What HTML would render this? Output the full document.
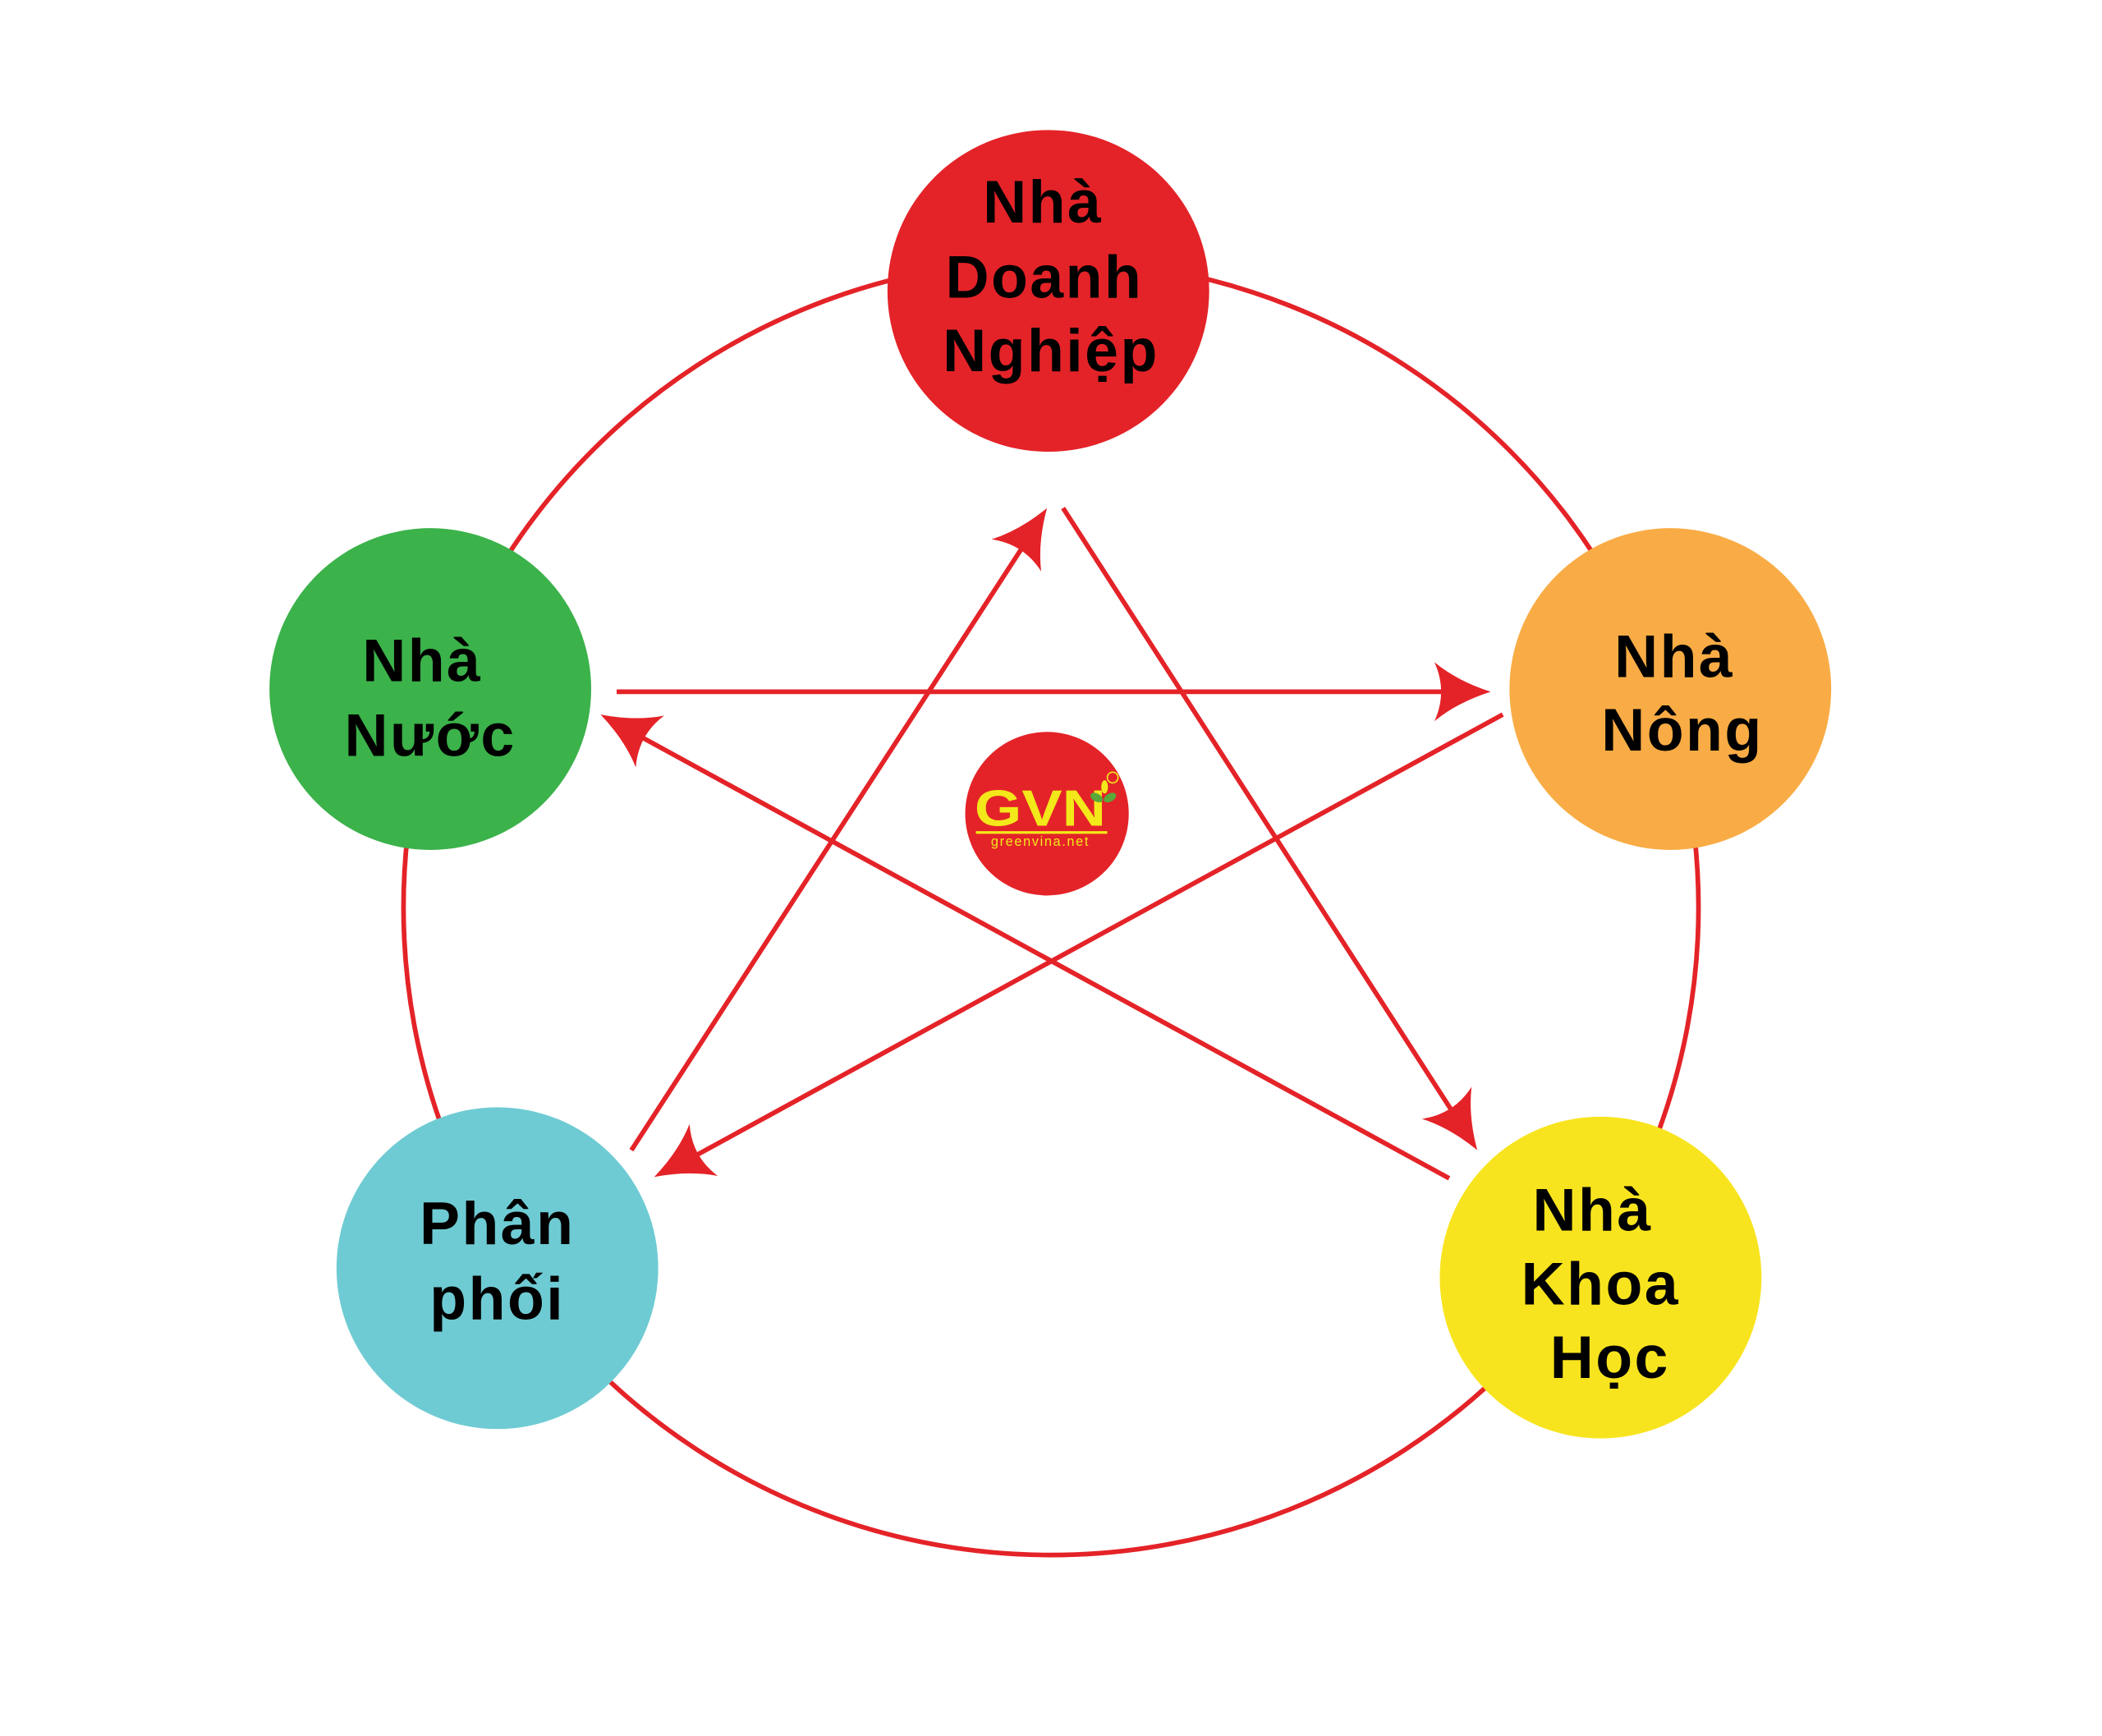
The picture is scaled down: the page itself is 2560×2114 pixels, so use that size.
<!DOCTYPE html>
<html><head><meta charset="utf-8"><style>
html,body{margin:0;padding:0;background:#fff;}
svg{display:block;}
text{font-family:"Liberation Sans",sans-serif;font-weight:bold;fill:#000;text-anchor:middle;}
</style></head><body>
<svg width="2560" height="2114" viewBox="0 0 1568 1295" preserveAspectRatio="none" xmlns="http://www.w3.org/2000/svg">
<rect width="1568" height="1295" fill="#fff"/>
<circle cx="784" cy="677" r="483" fill="none" stroke="#e42328" stroke-width="3.5"/>
<g stroke="#e42328" stroke-width="3.5" fill="none">
<line x1="460" y1="516" x2="1090" y2="516"/>
<line x1="1121" y1="533" x2="508" y2="868"/>
<line x1="471" y1="858" x2="770" y2="397"/>
<line x1="793" y1="379" x2="1091" y2="841"/>
<line x1="1081" y1="879" x2="466" y2="543"/>
</g>
<g fill="#e42328">
<path d="M0,0 Q-25,-8 -42,-22 Q-32,0 -42,22 Q-25,8 0,0 Z" transform="translate(1112,516)"/>
<path d="M0,0 Q-25,-8 -42,-22 Q-32,0 -42,22 Q-25,8 0,0 Z" transform="translate(488,878) rotate(151.4)"/>
<path d="M0,0 Q-25,-8 -42,-22 Q-32,0 -42,22 Q-25,8 0,0 Z" transform="translate(781,379) rotate(-57.1)"/>
<path d="M0,0 Q-25,-8 -42,-22 Q-32,0 -42,22 Q-25,8 0,0 Z" transform="translate(1102,858) rotate(57.2)"/>
<path d="M0,0 Q-25,-8 -42,-22 Q-32,0 -42,22 Q-25,8 0,0 Z" transform="translate(448,533) rotate(208.7)"/>
</g>
<circle cx="782" cy="217" r="120" fill="#e42328"/>
<circle cx="321" cy="514" r="120" fill="#3bb24a"/>
<circle cx="1246" cy="514" r="120" fill="#f9ac45"/>
<circle cx="371" cy="946" r="120" fill="#6fcbd3"/>
<circle cx="1194" cy="953" r="120" fill="#f8e41e"/>
<circle cx="781" cy="607" r="61" fill="#e42328"/>
<g font-size="45" style="letter-spacing:1.5px">
<text x="778" y="166">Nhà</text>
<text x="779" y="222">Doanh</text>
<text x="784" y="277">Nghiệp</text>
<text x="315" y="508">Nhà</text>
<text x="321" y="564">Nước</text>
<text x="1249" y="505">Nhà</text>
<text x="1255" y="560">Nông</text>
<text x="371" y="928">Phân</text>
<text x="371" y="984">phối</text>
<text x="1188" y="918">Nhà</text>
<text x="1194" y="973">Khoa</text>
<text x="1201" y="1028">Học</text>
</g>
<text x="776" y="616" font-size="38" style="fill:#f3e81a" textLength="98" lengthAdjust="spacingAndGlyphs">GVN</text>
<rect x="728" y="620" width="98" height="2" fill="#f3e81a"/>
<text x="776" y="631" font-size="10" style="fill:#f3e81a;font-weight:normal;letter-spacing:1px">greenvina.net</text>
<ellipse cx="818" cy="595" rx="5" ry="3" fill="#5aa83a" transform="rotate(30 818 595)"/>
<ellipse cx="828" cy="595" rx="5" ry="3" fill="#5aa83a" transform="rotate(-30 828 595)"/>
<ellipse cx="824" cy="587" rx="2.5" ry="5" fill="#f3e81a"/>
<circle cx="830" cy="580" r="4" fill="none" stroke="#f3e81a" stroke-width="1"/>
</svg>
</body></html>
